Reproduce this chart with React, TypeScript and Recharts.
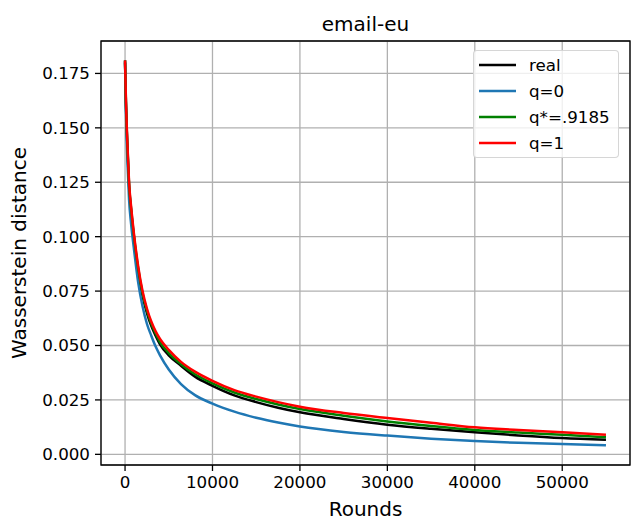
import React from "react";
import {
  LineChart,
  Line,
  XAxis,
  YAxis,
  CartesianGrid,
  Legend,
  Label,
  ReferenceArea,
} from "recharts";

// Rounds at which each distance was sampled
const rounds = [
  0, 100, 200, 300, 460, 690, 1000, 1500, 2000, 2500, 3000, 3500, 4000, 5000,
  6400, 8000, 10000, 12500, 15000, 17500, 20000, 25000, 30000, 35000, 40000,
  45000, 50000, 55000,
];

// Wasserstein distance per run
const real = [
  0.180, 0.161, 0.148, 0.138, 0.123, 0.112, 0.100, 0.0845, 0.073, 0.065, 0.059,
  0.0545, 0.0505, 0.0455, 0.0407, 0.0357, 0.0315, 0.0271, 0.024, 0.0214,
  0.0193, 0.0162, 0.0136, 0.0117, 0.0101, 0.0087, 0.0075, 0.0067,
];
const q0 = [
  0.181, 0.158, 0.143, 0.132, 0.117, 0.106, 0.095, 0.079, 0.068, 0.06, 0.0545,
  0.0495, 0.0455, 0.039, 0.0323, 0.0272, 0.0233, 0.0196, 0.0168, 0.0146,
  0.0128, 0.0103, 0.0086, 0.0072, 0.0061, 0.0053, 0.0047, 0.0042,
];
const qStar = [
  0.181, 0.162, 0.149, 0.139, 0.124, 0.113, 0.101, 0.0855, 0.074, 0.066, 0.06,
  0.0555, 0.0515, 0.0465, 0.0414, 0.0368, 0.0326, 0.0284, 0.0254, 0.0229,
  0.0208, 0.0177, 0.0151, 0.013, 0.0112, 0.01, 0.009, 0.0078,
];
const q1 = [
  0.181, 0.163, 0.15, 0.14, 0.125, 0.114, 0.102, 0.0865, 0.075, 0.067, 0.061,
  0.0565, 0.053, 0.048, 0.0425, 0.038, 0.0338, 0.0295, 0.0265, 0.024, 0.0219,
  0.019, 0.0167, 0.0145, 0.0124, 0.0112, 0.0101, 0.009,
];

const xTicks = [0, 10000, 20000, 30000, 40000, 50000];
const yTicks = [0, 0.025, 0.05, 0.075, 0.1, 0.125, 0.15, 0.175];

const series = [
  { key: "real", name: "real", color: "#000000" },
  { key: "q0", name: "q=0", color: "#1f77b4" },
  { key: "qStar", name: "q*=.9185", color: "#008000" },
  { key: "q1", name: "q=1", color: "#ff0000" },
];

const data = rounds.map((r, i) => ({
  rounds: r,
  real: real[i],
  q0: q0[i],
  qStar: qStar[i],
  q1: q1[i],
}));

const X_DOMAIN: [number, number] = [-2750, 57750];
const Y_DOMAIN: [number, number] = [-0.0049, 0.1899];
const FONT = "'DejaVu Sans', sans-serif";
const tickStyle = { fill: "#000", fontSize: 16.7, fontFamily: FONT };

const renderLegend = () => (
  <div
    style={{
      border: "1.3px solid rgba(204,204,204,0.8)",
      borderRadius: 4,
      background: "rgba(255,255,255,0.8)",
      padding: "1px 8px 1px 5px",
      fontFamily: FONT,
      fontSize: 16.7,
      color: "#000",
    }}
  >
    {series.map((s) => (
      <div
        key={s.key}
        style={{ display: "flex", alignItems: "center", height: 26 }}
      >
        <svg width={37} height={6} style={{ marginRight: 13 }}>
          <line x1={0} y1={3} x2={37} y2={3} stroke={s.color} strokeWidth={2.5} />
        </svg>
        <span>{s.name}</span>
      </div>
    ))}
  </div>
);

export default function App() {
  return (
    <div
      style={{
        position: "absolute",
        left: 0,
        top: 0,
        width: 631,
        height: 523,
        background: "#fff",
      }}
    >
      <div
        style={{
          position: "absolute",
          left: 101,
          width: 529,
          top: 12,
          textAlign: "center",
          fontFamily: FONT,
          fontSize: 20,
          color: "#000",
        }}
      >
        email-eu
      </div>
      <LineChart
        width={631}
        height={523}
        data={data}
        margin={{ top: 41, right: 1, bottom: 0, left: 0 }}
      >
        <CartesianGrid stroke="#b0b0b0" strokeWidth={1.3} fill="none" />
        <XAxis
          dataKey="rounds"
          type="number"
          domain={X_DOMAIN}
          ticks={xTicks}
          allowDataOverflow
          height={58}
          axisLine={false}
          tickLine={{ stroke: "#000", strokeWidth: 1.3 }}
          tickSize={6}
          tickMargin={5}
          tick={tickStyle}
        >
          <Label
            value="Rounds"
            position="insideBottom"
            offset={7}
            style={{ fill: "#000", fontSize: 20, fontFamily: FONT }}
          />
        </XAxis>
        <YAxis
          type="number"
          domain={Y_DOMAIN}
          ticks={yTicks}
          allowDataOverflow
          width={101}
          axisLine={false}
          tickLine={{ stroke: "#000", strokeWidth: 1.3 }}
          tickSize={6}
          tickMargin={5}
          tick={tickStyle}
          tickFormatter={(v: number) => v.toFixed(3)}
        >
          <Label
            value="Wasserstein distance"
            angle={-90}
            position="insideLeft"
            offset={19}
            style={{
              fill: "#000",
              fontSize: 20,
              fontFamily: FONT,
              textAnchor: "middle",
            }}
          />
        </YAxis>
        {series.map((s) => (
          <Line
            key={s.key}
            dataKey={s.key}
            name={s.name}
            type="monotone"
            stroke={s.color}
            strokeWidth={2.5}
            dot={false}
            isAnimationActive={false}
          />
        ))}
        <ReferenceArea
          x1={X_DOMAIN[0]}
          x2={X_DOMAIN[1]}
          y1={Y_DOMAIN[0]}
          y2={Y_DOMAIN[1]}
          fill="none"
          stroke="#000"
          strokeWidth={1.3}
          ifOverflow="visible"
        />
        <Legend
          layout="horizontal"
          verticalAlign="middle"
          align="center"
          content={renderLegend}
          wrapperStyle={{ position: "absolute", left: 473, top: 50, width: "auto" }}
        />
      </LineChart>
    </div>
  );
}
